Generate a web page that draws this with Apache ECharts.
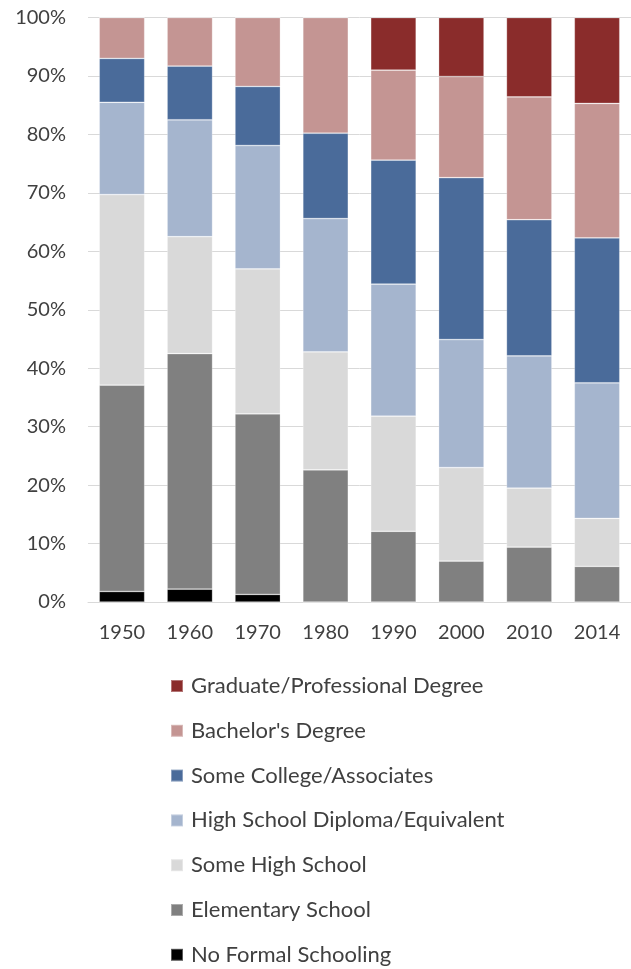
<!DOCTYPE html>
<html>
<head>
<meta charset="utf-8">
<script src="https://cdn.jsdelivr.net/npm/echarts@6/dist/echarts.min.js"></script>
<style>
html,body{margin:0;padding:0;background:#fff;}
#chart{width:631px;height:969px;}
</style>
</head>
<body>
<div id="chart"></div>
<script>
const years = ['1950','1960','1970','1980','1990','2000','2010','2014'];
const noFormal    = [1.8, 2.2, 1.3, 0, 0, 0, 0, 0];
const elementary  = [35.3, 40.3, 30.9, 22.6, 12.1, 7.0, 9.4, 6.1];
const someHigh    = [32.6, 20.0, 24.8, 20.2, 19.7, 16.0, 10.1, 8.2];
const highSchool  = [15.8, 20.0, 21.1, 22.8, 22.6, 21.9, 22.6, 23.2];
const someCollege = [7.5, 9.2, 10.1, 14.6, 21.2, 27.7, 23.3, 24.8];
const bachelor    = [7.0, 8.3, 11.8, 19.8, 15.4, 17.3, 21.0, 23.0];
const graduate    = [0, 0, 0, 0, 9.0, 10.1, 13.6, 14.7];
const yTicks = [0,10,20,30,40,50,60,70,80,90,100];

const seriesDefs = [
  {name:'No Formal Schooling', data:noFormal, color:'#000000'},
  {name:'Elementary School', data:elementary, color:'#808080'},
  {name:'Some High School', data:someHigh, color:'#D9D9D9'},
  {name:'High School Diploma/Equivalent', data:highSchool, color:'#A5B5CE'},
  {name:'Some College/Associates', data:someCollege, color:'#4A6B9A'},
  {name:"Bachelor's Degree", data:bachelor, color:'#C49593'},
  {name:'Graduate/Professional Degree', data:graduate, color:'#8A2C2B'}
];

const font = 'Lato, "Open Sans", sans-serif';
const chart = echarts.init(document.getElementById('chart'), null, {renderer:'canvas'});
chart.setOption({
  animation:false,
  backgroundColor:'#ffffff',
  grid:{left:88, right:-8, top:17.5, bottom:367, containLabel:false},
  xAxis:{
    type:'category', data:years,
    axisLine:{show:true, lineStyle:{color:'#D9D9D9', width:1}},
    axisTick:{show:false},
    axisLabel:{color:'#404040', fontFamily:font, fontSize:20, margin:21}
  },
  yAxis:{
    type:'value', min:0, max:100, interval:10,
    axisLine:{show:false}, axisTick:{show:false},
    splitLine:{lineStyle:{color:'#D9D9D9', width:1}},
    axisLabel:{color:'#404040', fontFamily:font, fontSize:20, margin:22,
      formatter:v => yTicks.includes(v) ? v + '%' : ''}
  },
  legend:{
    orient:'vertical', left:170, top:675, bottom:0, padding:0,
    itemWidth:12, itemHeight:12, itemGap:22.8,
    icon:'rect',
    data:seriesDefs.map(s=>s.name).reverse(),
    textStyle:{color:'#404040', fontFamily:font, fontSize:22, lineHeight:22, padding:[0,0,0,3]}
  },
  series:seriesDefs.map(s=>({
    name:s.name, type:'bar', stack:'total', data:s.data,
    barCategoryGap:'33%',
    itemStyle:{color:s.color, borderColor:'rgba(255,255,255,0.35)', borderWidth:0.75}
  }))
});
</script>
</body>
</html>
